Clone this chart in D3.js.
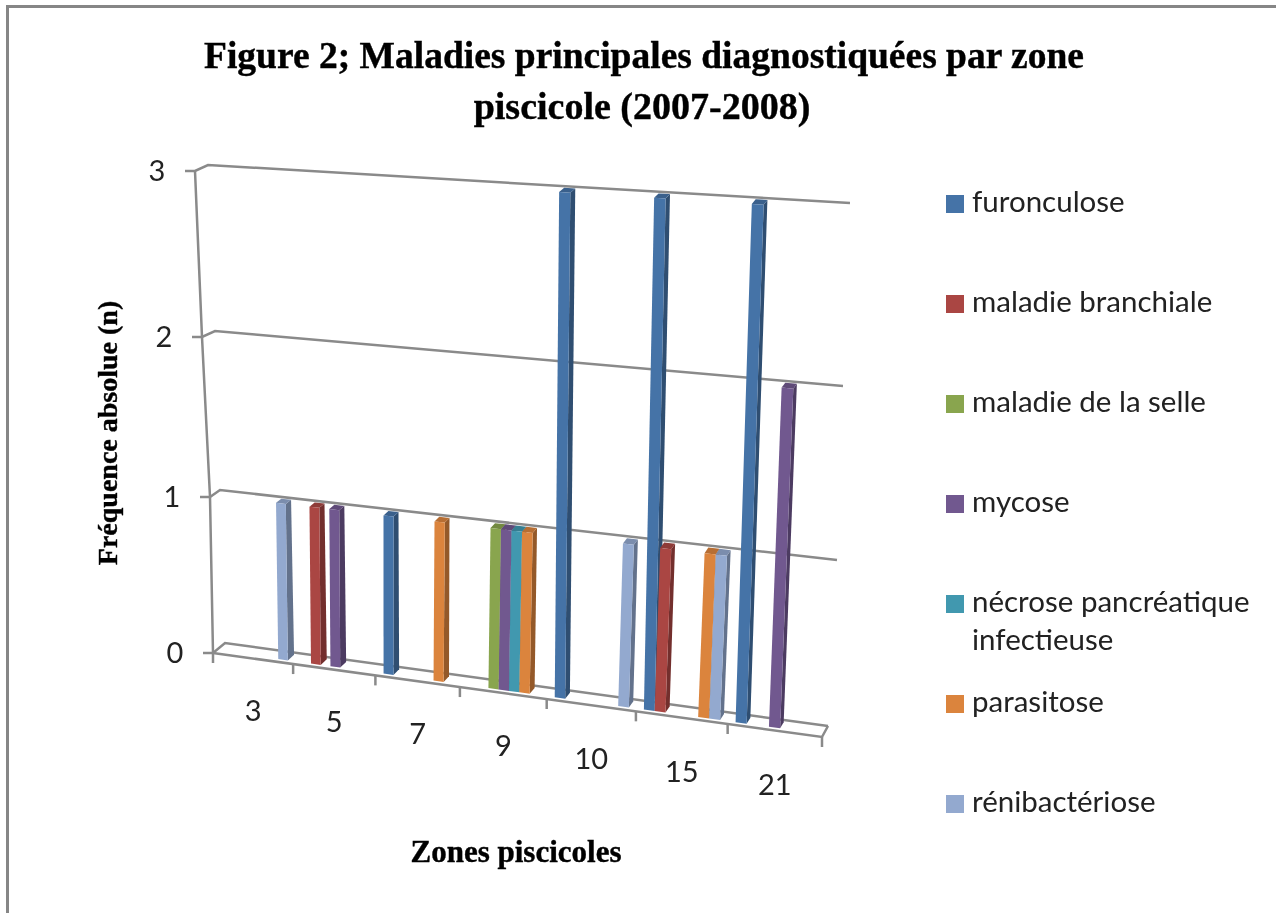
<!DOCTYPE html>
<html>
<head>
<meta charset="utf-8">
<script src="https://cdn.jsdelivr.net/npm/d3@7"></script>
<style>
  html, body { margin: 0; padding: 0; background: #fff; overflow: hidden; }
  svg { display: block; filter: blur(0.6px); }
  .serif { font-family: "Liberation Serif", serif; font-weight: bold; fill: #000; stroke: #000; stroke-width: 0.4px; }
  .sans { font-family: Lato, sans-serif; fill: #222; }
</style>
</head>
<body>
<div id="chart"></div>
<script>
// values
var zones = ['3', '5', '7', '9', '10', '15', '21'];
var valueTicks = [0, 1, 2, 3];

var furonculose = [0, 0, 1, 0, 3, 3, 3];
var branchiale  = [0, 1, 0, 0, 0, 1, 0];
var selle       = [0, 0, 0, 1, 0, 0, 0];
var mycose      = [0, 1, 0, 1, 0, 0, 2];
var necrose     = [0, 0, 0, 1, 0, 0, 0];
var parasitose  = [0, 0, 1, 1, 0, 1, 0];
var renibac     = [1, 0, 0, 0, 1, 1, 0];

var seriesNames = ['furonculose', 'maladie branchiale', 'maladie de la selle', 'mycose',
                   'nécrose pancréatique infectieuse', 'parasitose', 'rénibactériose'];
var seriesValues = [furonculose, branchiale, selle, mycose, necrose, parasitose, renibac];
var seriesColors = ['#4573a7', '#aa4643', '#89a54e', '#71588f', '#4198af', '#db843d', '#93a9cf'];

const width = 1276, height = 913;

var svg = d3.select('#chart').append('svg')
    .attr('width', width)
    .attr('height', height);

// chart frame, only top and left edges show in the picture
svg.append('path')
  .attr('d', d3.line()([[7.5, height], [7.5, 6.5], [width, 6.5]]))
  .attr('fill', 'none')
  .attr('stroke', '#868686')
  .attr('stroke-width', 3);

// the 3d box: walls at the front (depth 0) and back (depth 1), read from the corners
var frontLeftX  = d3.scaleLinear().domain(valueTicks).range([213, 210, 202, 195]);
var frontLeftY  = d3.scaleLinear().domain(valueTicks).range([653, 497, 337, 171]);
var frontRightX = d3.scaleLinear().domain(valueTicks).range([822, 831, 837, 844]);
var frontRightY = d3.scaleLinear().domain(valueTicks).range([737, 571, 395, 212]);
var backLeftX   = d3.scaleLinear().domain(valueTicks).range([225, 220, 215, 208]);
var backLeftY   = d3.scaleLinear().domain(valueTicks).range([643, 490, 331, 165]);
var backRightX  = d3.scaleLinear().domain(valueTicks).range([828, 837, 843, 850]);
var backRightY  = d3.scaleLinear().domain(valueTicks).range([726, 560, 386, 203]);

function project(t, v, depth) {
  var fx = frontLeftX(v) + t * (frontRightX(v) - frontLeftX(v));
  var fy = frontLeftY(v) + t * (frontRightY(v) - frontLeftY(v));
  var bx = backLeftX(v) + t * (backRightX(v) - backLeftX(v));
  var by = backLeftY(v) + t * (backRightY(v) - backLeftY(v));
  return [fx + depth * (bx - fx), fy + depth * (by - fy)];
}

// categories get a bit wider to the right
function persp(u) {
  return u / (1.1 - 0.1 * u);
}

var zoneScale = d3.scaleBand().domain(zones).range([0, 1]);
var seriesScale = d3.scaleBand()
    .domain(seriesNames)
    .range([0, zoneScale.bandwidth()])
    .paddingInner(0)
    .paddingOuter(0.7)
    .align(0.4);

var line = d3.line();
var gridColor = '#8a8a8a';

function drawLine(points, w) {
  svg.append('path')
    .attr('d', line(points))
    .attr('fill', 'none')
    .attr('stroke', gridColor)
    .attr('stroke-width', w || 2.5);
}

// gridlines on the back wall and the connector to the axis
valueTicks.forEach(function (v) {
  drawLine([
    [frontLeftX(v) - 10, frontLeftY(v)],
    project(0, v, 0),
    project(0, v, 1),
    project(1, v, 1)
  ]);
  svg.append('text')
    .attr('class', 'sans')
    .attr('x', frontLeftX(v) - 38)
    .attr('y', frontLeftY(v) + 10)
    .attr('text-anchor', 'middle')
    .style('font-size', '29px')
    .text(v);
});

// value axis
drawLine(valueTicks.map(function (v) { return project(0, v, 0); }));

// floor front edge and end connector
drawLine([project(0, 0, 0), project(1, 0, 0), project(1, 0, 1)]);

// category ticks and labels
var tickPos = zones.map(function (z) { return zoneScale(z); }).concat([1]);
tickPos.forEach(function (u) {
  var p = project(persp(u), 0, 0);
  drawLine([p, [p[0], p[1] + 10]]);
});

zones.forEach(function (z) {
  var t0 = persp(zoneScale(z));
  var t1 = persp(zoneScale(z) + zoneScale.bandwidth());
  var t = (t0 + t1) / 2;
  var p = project(t, 0, 0);
  svg.append('text')
    .attr('class', 'sans')
    .attr('x', p[0])
    .attr('y', p[1] + 62 + 3 * t)
    .attr('text-anchor', 'middle')
    .style('font-size', '29px')
    .text(z);
});

// bars, left to right so the later ones cover the earlier ones
var bars = [];
zones.forEach(function (z, i) {
  seriesNames.forEach(function (name, s) {
    if (seriesValues[s][i] > 0) {
      bars.push({ zone: z, name: name, color: seriesColors[s], value: seriesValues[s][i] });
    }
  });
});

const depth0 = 0.25, depth1 = 0.8;

function pts(list) {
  return list.map(function (p) { return p.join(','); }).join(' ');
}

var barG = svg.selectAll('g.bar')
    .data(bars)
    .enter()
    .append('g')
    .attr('class', 'bar');

function barEdges(d) {
  var u = zoneScale(d.zone) + seriesScale(d.name);
  return { t0: persp(u), t1: persp(u + seriesScale.bandwidth()) };
}

barG.append('polygon')
  .attr('fill', function (d) { return d3.color(d.color).darker(1.1); })
  .attr('points', function (d) {
    var e = barEdges(d);
    return pts([project(e.t1, 0, depth0), project(e.t1, d.value, depth0),
                project(e.t1, d.value, depth1), project(e.t1, 0, depth1)]);
  });

barG.append('polygon')
  .attr('fill', function (d) { return d3.color(d.color).darker(0.5); })
  .attr('points', function (d) {
    var e = barEdges(d);
    return pts([project(e.t0, d.value, depth0), project(e.t1, d.value, depth0),
                project(e.t1, d.value, depth1), project(e.t0, d.value, depth1)]);
  });

barG.append('polygon')
  .attr('fill', function (d) { return d.color; })
  .attr('points', function (d) {
    var e = barEdges(d);
    return pts([project(e.t0, d.value, depth0), project(e.t1, d.value, depth0),
                project(e.t1, 0, depth0), project(e.t0, 0, depth0)]);
  });

// legend
var legendY = d3.scalePoint().domain(seriesNames).range([204, 804]);

var legend = svg.selectAll('g.legend')
    .data(seriesNames)
    .enter()
    .append('g')
    .attr('class', 'legend')
    .attr('transform', function (d) { return `translate(946, ${legendY(d)})`; });

legend.append('rect')
  .attr('x', 0)
  .attr('y', -9)
  .attr('width', 18)
  .attr('height', 18)
  .attr('fill', function (d, i) { return seriesColors[i]; });

legend.append('text')
  .attr('class', 'sans')
  .attr('x', 26)
  .attr('y', 8)
  .style('font-size', '29.5px')
  .each(function (d) {
    // the long name wraps on two lines
    var words = d.indexOf('infectieuse') > 0 ? ['nécrose pancréatique', 'infectieuse'] : [d];
    var el = d3.select(this);
    words.forEach(function (w, i) {
      el.append('tspan').attr('x', 26).attr('dy', i == 0 ? 0 : 38).text(w);
    });
  });

// titles
svg.append('text')
  .attr('class', 'serif')
  .attr('x', 644)
  .attr('y', 68)
  .attr('text-anchor', 'middle')
  .style('font-size', '37.5px')
  .text('Figure 2; Maladies principales diagnostiquées par zone');

svg.append('text')
  .attr('class', 'serif')
  .attr('x', 642)
  .attr('y', 119)
  .attr('text-anchor', 'middle')
  .style('font-size', '38px')
  .text('piscicole (2007-2008)');

svg.append('text')
  .attr('class', 'serif')
  .attr('transform', 'translate(117, 433) rotate(-90)')
  .attr('text-anchor', 'middle')
  .style('font-size', '28px')
  .text('Fréquence absolue (n)');

svg.append('text')
  .attr('class', 'serif')
  .attr('x', 516)
  .attr('y', 862)
  .attr('text-anchor', 'middle')
  .style('font-size', '31px')
  .text('Zones piscicoles');
</script>
</body>
</html>
